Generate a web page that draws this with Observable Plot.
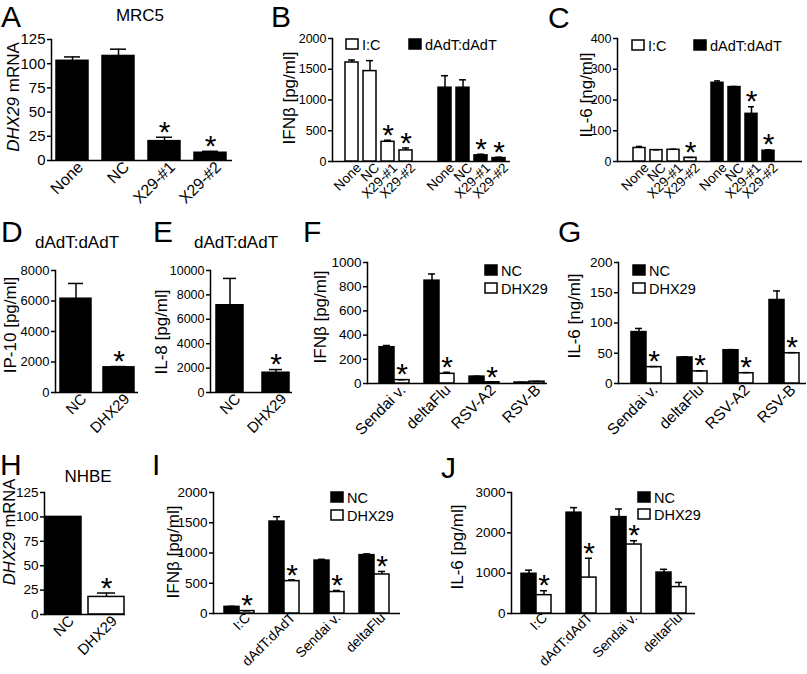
<!DOCTYPE html>
<html><head><meta charset="utf-8">
<script src="https://cdn.jsdelivr.net/npm/d3@7"></script>
<script src="https://cdn.jsdelivr.net/npm/@observablehq/plot@0.6"></script>
<style>
html,body{margin:0;padding:0;background:#fff;}
#fig{position:relative;width:807px;height:674px;overflow:hidden;background:#fff;font-family:"Liberation Sans",Arial,Helvetica,sans-serif;}
</style></head><body><div id="fig"></div>
<script>
// ---------------- DATA ----------------
// A: MRC5 DHX29 mRNA
const siA = ["None", "NC", "X29-#1", "X29-#2"];
const mrnaA = [103, 108, 20, 8];
const mrnaAErr = [107, 115, 24, 9.5];
const starA = [0, 0, 1, 1];
const ticksA = [0, 25, 50, 75, 100, 125];

// B / C: grouped by stimulus
const stimBC = ["I:C", "dAdT:dAdT"];
const siBC = ["None", "NC", "X29-#1", "X29-#2"];
const ifnB_IC = [1610, 1470, 320, 180];
const ifnB_ICErr = [1650, 1640, 345, 220];
const ifnB_dAdT = [1200, 1200, 100, 55];
const ifnB_dAdTErr = [1395, 1328, 118, 70];
const starB_IC = [0, 0, 1, 1];
const starB_dAdT = [0, 0, 1, 1];
const ticksB = [0, 500, 1000, 1500, 2000];

const il6C_IC = [44, 37, 38, 12];
const il6C_ICErr = [49, 38, 40, 13];
const il6C_dAdT = [256, 242, 155, 35];
const il6C_dAdTErr = [262, 244, 178, 38];
const starC_IC = [0, 0, 0, 1];
const starC_dAdT = [0, 0, 1, 1];
const ticksC = [0, 100, 200, 300, 400];

// D / E
const cellsDE = ["NC", "DHX29"];
const ip10D = [6150, 1650];
const ip10DErr = [7150, 1700];
const starD = [0, 1];
const ticksD = [0, 2000, 4000, 6000, 8000];
const il8E = [7150, 1620];
const il8EErr = [9350, 1880];
const starE = [0, 1];
const ticksE = [0, 2000, 4000, 6000, 8000, 10000];

// F / G: virus infections
const conds = ["NC", "DHX29"];
const virusFG = ["Sendai v.", "deltaFlu", "RSV-A2", "RSV-B"];
const ifnF_NC = [300, 850, 57, 8];
const ifnF_NCErr = [314, 905, 60, 9];
const ifnF_DHX = [28, 80, 10, 15];
const ifnF_DHXErr = [31, 92, 11, 17];
const starF = [1, 1, 1, 0];
const ticksF = [0, 200, 400, 600, 800, 1000];

const il6G_NC = [85, 43, 55, 138];
const il6G_NCErr = [91, 44, 56, 153];
const il6G_DHX = [27, 20, 17, 50];
const il6G_DHXErr = [28, 21, 18, 51];
const starG = [1, 1, 1, 1];
const ticksG = [0, 50, 100, 150, 200];

// H: NHBE
const cellsH = ["NC", "DHX29"];
const mrnaH = [100, 18];
const mrnaHErr = [100, 22];
const starH = [0, 1];
const ticksH = [0, 25, 50, 75, 100, 125];

// I / J
const stimIJ = ["I:C", "dAdT:dAdT", "Sendai v.", "deltaFlu"];
const ifnI_NC = [110, 1520, 875, 965];
const ifnI_NCErr = [118, 1600, 895, 985];
const ifnI_DHX = [40, 535, 355, 645];
const ifnI_DHXErr = [44, 555, 380, 695];
const starI = [1, 1, 1, 1];
const ticksI = [0, 500, 1000, 1500, 2000];

const il6J_NC = [985, 2500, 2390, 1015];
const il6J_NCErr = [1075, 2625, 2590, 1095];
const il6J_DHX = [455, 890, 1710, 655];
const il6J_DHXErr = [565, 1370, 1805, 770];
const starJ = [1, 1, 1, 0];
const ticksJ = [0, 1000, 2000, 3000];

// ---------------- DRAWING ----------------
const FONT = '"Liberation Sans", Arial, Helvetica, sans-serif';
const SW = 1.5;
const STAR = 30, STAR_DY = -5;
const ML = 45, MR = 14, MT = 14, MB = 90;
const fig = document.getElementById("fig");

function base(f) {
  return {
    width: f.x1 - f.x0 + ML + MR,
    height: f.y1 - f.y0 + MT + MB,
    marginLeft: ML, marginRight: MR, marginTop: MT, marginBottom: MB,
    style: {fontFamily: FONT, background: "transparent", overflow: "visible", color: "#000"}
  };
}
function place(svg, f) {
  svg.style.position = "absolute";
  svg.style.left = (f.x0 - ML) + "px";
  svg.style.top = (f.y0 - MT) + "px";
  svg.style.maxWidth = "none";
  fig.appendChild(svg);
}
function rowsOf(cats, vals, errs, stars, g) {
  return cats.map((c, i) => ({g, c, v: vals[i], e: errs[i], s: stars[i]}));
}
function yAxisMarks(f, yTicks) {
  return [
    Plot.axisY({ticks: yTicks, tickFormat: d => String(d), tickSize: 4, tickPadding: 2,
      strokeWidth: SW, fontSize: f.tfs, label: null}),
    Plot.ruleY([0], {stroke: "#000", strokeWidth: SW}),
    Plot.frame({anchor: "left", stroke: "#000", strokeWidth: SW})
  ];
}

function simplePanel(f, rows, cats, yTicks, xScale, fill, color) {
  const svg = Plot.plot({
    ...base(f),
    x: {domain: cats, ...xScale, axis: null, label: null},
    y: {domain: [0, yTicks[yTicks.length - 1]], axis: null, label: null},
    color,
    marks: [
      Plot.barY(rows, {x: "c", y: "v", fill, stroke: "#000", strokeWidth: SW}),
      Plot.ruleX(rows, {x: "c", y1: "v", y2: "e", stroke: "#000", strokeWidth: SW}),
      Plot.tickY(rows, {x: "c", y: "e", stroke: "#000", strokeWidth: SW, insetLeft: f.cap, insetRight: f.cap}),
      Plot.text(rows.filter(d => d.s), {x: "c", y: "e", text: () => "*", fontSize: STAR, dy: STAR_DY}),
      Plot.axisX({tickSize: 0, tickPadding: 4, tickRotate: -45, fontSize: f.xfs, label: null, dx: 8}),
      ...yAxisMarks(f, yTicks)
    ]
  });
  place(svg, f);
}

function facetPanel(f, rows, o) {
  const yDomain = [0, o.yTicks[o.yTicks.length - 1]];
  // axes layer (no facets): y axis, left spine, baseline
  const axes = Plot.plot({
    ...base(f),
    y: {domain: yDomain, axis: null, label: null},
    marks: yAxisMarks(f, o.yTicks)
  });
  place(axes, f);
  // bars layer (faceted)
  const svg = Plot.plot({
    ...base(f),
    fx: {domain: o.fx, ...o.fxScale, axis: null, label: null},
    x: {domain: o.x, ...o.xScale, axis: null, label: null},
    y: {domain: yDomain, axis: null, label: null},
    color: o.color,
    marks: [
      Plot.barY(rows, {fx: "g", x: "c", y: "v", fill: o.fillBy, stroke: "#000", strokeWidth: SW}),
      Plot.ruleX(rows, {fx: "g", x: "c", y1: "v", y2: "e", stroke: "#000", strokeWidth: SW}),
      Plot.tickY(rows, {fx: "g", x: "c", y: "e", stroke: "#000", strokeWidth: SW, insetLeft: f.cap, insetRight: f.cap}),
      Plot.text(rows.filter(d => d.s), {fx: "g", x: "c", y: "e", text: () => "*", fontSize: STAR, dy: STAR_DY}),
      o.labelOn === "x"
        ? Plot.axisX({tickSize: 0, tickPadding: 4, tickRotate: -45, fontSize: f.xfs, label: null, dx: 7})
        : Plot.axisFx({anchor: "bottom", tickSize: 0, tickPadding: f.xpad ?? 4, tickRotate: -45, fontSize: f.xfs, label: null, dx: 9})
    ]
  });
  place(svg, f);
}

const bw = {domain: ["NC", "DHX29"], range: ["#000", "#fff"]};
const stimColor = {domain: stimBC, range: ["#fff", "#000"]};

// A
simplePanel({x0: 51, x1: 232, y0: 39, y1: 160, cap: 8, tfs: 15, xfs: 16},
  rowsOf(siA, mrnaA, mrnaAErr, starA), siA, ticksA,
  {paddingInner: 0.30, paddingOuter: 0.1, align: 0.43}, "#000");
// B
facetPanel({x0: 332, x1: 510, y0: 38, y1: 161, cap: 3, tfs: 12.5, xfs: 13.5},
  [...rowsOf(siBC, ifnB_IC, ifnB_ICErr, starB_IC, stimBC[0]), ...rowsOf(siBC, ifnB_dAdT, ifnB_dAdTErr, starB_dAdT, stimBC[1])],
  {fx: stimBC, x: siBC, yTicks: ticksB, labelOn: "x", fillBy: "g", color: stimColor,
   fxScale: {paddingInner: 0.253, paddingOuter: 0.083, align: 0.78}, xScale: {paddingInner: 0.28, paddingOuter: 0.05}});
// C
facetPanel({x0: 617, x1: 802, y0: 38, y1: 161, cap: 3, tfs: 12.5, xfs: 13.5},
  [...rowsOf(siBC, il6C_IC, il6C_ICErr, starC_IC, stimBC[0]), ...rowsOf(siBC, il6C_dAdT, il6C_dAdTErr, starC_dAdT, stimBC[1])],
  {fx: stimBC, x: siBC, yTicks: ticksC, labelOn: "x", fillBy: "g", color: stimColor,
   fxScale: {paddingInner: 0.137, paddingOuter: 0.254, align: 0.355}, xScale: {paddingInner: 0.27, paddingOuter: 0.05}});
// D
simplePanel({x0: 55, x1: 138, y0: 270, y1: 392, cap: 8, tfs: 13, xfs: 15},
  rowsOf(cellsDE, ip10D, ip10DErr, starD), cellsDE, ticksD,
  {paddingInner: 0.29, paddingOuter: 0.11, align: 0.53}, "#000");
// E
simplePanel({x0: 210, x1: 292, y0: 270, y1: 392, cap: 7, tfs: 12.5, xfs: 15},
  rowsOf(cellsDE, il8E, il8EErr, starE), cellsDE, ticksE,
  {paddingInner: 0.415, paddingOuter: 0.08, align: 0.67}, "#000");
// F
facetPanel({x0: 367, x1: 547, y0: 262, y1: 383, cap: 4, tfs: 13.5, xfs: 15.5},
  virusFG.flatMap((g, i) => [
    {g, c: "NC", v: ifnF_NC[i], e: ifnF_NCErr[i], s: 0},
    {g, c: "DHX29", v: ifnF_DHX[i], e: ifnF_DHXErr[i], s: starF[i]}]),
  {fx: virusFG, x: conds, yTicks: ticksF, labelOn: "fx", fillBy: "c", color: bw,
   fxScale: {paddingInner: 0.30, paddingOuter: 0.12, align: 0.82}, xScale: {padding: 0}});
// G
facetPanel({x0: 618, x1: 806, y0: 262, y1: 383, cap: 4, tfs: 13.5, xfs: 15.5},
  virusFG.flatMap((g, i) => [
    {g, c: "NC", v: il6G_NC[i], e: il6G_NCErr[i], s: 0},
    {g, c: "DHX29", v: il6G_DHX[i], e: il6G_DHXErr[i], s: starG[i]}]),
  {fx: virusFG, x: conds, yTicks: ticksG, labelOn: "fx", fillBy: "c", color: bw,
   fxScale: {paddingInner: 0.326, paddingOuter: 0.2, align: 0.63}, xScale: {padding: 0}});
// H
simplePanel({x0: 44, x1: 125, y0: 492, y1: 614, cap: 9, tfs: 13.5, xfs: 15},
  rowsOf(cellsH, mrnaH, mrnaHErr, starH), cellsH, ticksH,
  {paddingInner: 0.16, paddingOuter: 0.02, align: 0.5}, "c", bw);
// I
facetPanel({x0: 213, x1: 400, y0: 492, y1: 613, cap: 4, tfs: 13.5, xfs: 13.8, xpad: 2},
  stimIJ.flatMap((g, i) => [
    {g, c: "NC", v: ifnI_NC[i], e: ifnI_NCErr[i], s: 0},
    {g, c: "DHX29", v: ifnI_DHX[i], e: ifnI_DHXErr[i], s: starI[i]}]),
  {fx: stimIJ, x: conds, yTicks: ticksI, labelOn: "fx", fillBy: "c", color: bw,
   fxScale: {paddingInner: 0.31, paddingOuter: 0.2, align: 0.49}, xScale: {padding: 0}});
// J
facetPanel({x0: 511, x1: 695, y0: 492, y1: 613, cap: 4, tfs: 13.5, xfs: 13.8, xpad: 2},
  stimIJ.flatMap((g, i) => [
    {g, c: "NC", v: il6J_NC[i], e: il6J_NCErr[i], s: 0},
    {g, c: "DHX29", v: il6J_DHX[i], e: il6J_DHXErr[i], s: starJ[i]}]),
  {fx: stimIJ, x: conds, yTicks: ticksJ, labelOn: "fx", fillBy: "c", color: bw,
   fxScale: {paddingInner: 0.31, paddingOuter: 0.17, align: 0.52}, xScale: {padding: 0}});

// ---------------- ANNOTATIONS (letters, titles, axis labels, legends) ----------------
const ov = d3.select(fig).append("svg")
  .attr("width", 807).attr("height", 674)
  .style("position", "absolute").style("left", "0px").style("top", "0px")
  .style("font-family", FONT).style("pointer-events", "none");

const letters = [
  ["A", 1, 27], ["B", 271, 27], ["C", 548, 28], ["D", 1, 242], ["E", 153, 242],
  ["F", 303, 242], ["G", 558, 242], ["H", 0, 475], ["I", 152, 475], ["J", 441, 478]
];
letters.forEach(([t, x, y]) => ov.append("text").attr("x", x).attr("y", y)
  .attr("font-size", 30).text(t));

const titles = [["MRC5", 140, 21], ["dAdT:dAdT", 77, 248], ["dAdT:dAdT", 236, 248], ["NHBE", 88, 482]];
titles.forEach(([t, x, y]) => ov.append("text").attr("x", x).attr("y", y)
  .attr("font-size", 17).attr("text-anchor", "middle").text(t));

const ylabels = [
  [["DHX29", true], [" mRNA", false], 13, 97, 17],
  [["IFNβ [pg/ml]", false], null, 289, 98, 17],
  [["IL-6 [ng/ml]", false], null, 586, 95, 17],
  [["IP-10 [pg/ml]", false], null, 10, 325, 17],
  [["IL-8 [pg/ml]", false], null, 161, 332, 17],
  [["IFNβ [pg/ml]", false], null, 320, 317, 17],
  [["IL-6 [ng/ml]", false], null, 574, 316, 17],
  [["DHX29", true], [" mRNA", false], 9, 532, 16.5],
  [["IFNβ [pg/ml]", false], null, 173, 552, 17],
  [["IL-6 [pg/ml]", false], null, 457, 547, 17]
];
ylabels.forEach(([p1, p2, x, y, fs]) => {
  const t = ov.append("text").attr("transform", `translate(${x},${y}) rotate(-90)`)
    .attr("text-anchor", "middle").attr("dy", "0.35em").attr("font-size", fs);
  t.append("tspan").attr("font-style", p1[1] ? "italic" : null).text(p1[0]);
  if (p2) t.append("tspan").attr("font-style", p2[1] ? "italic" : null).text(p2[0]);
});

// legends: [x, y, filled, label]
const legends = [
  [346, 39, false, "I:C"], [409, 39, true, "dAdT:dAdT"],
  [632, 40, false, "I:C"], [694, 40, true, "dAdT:dAdT"],
  [485, 265, true, "NC"], [485, 283, false, "DHX29"],
  [633, 265, true, "NC"], [633, 283, false, "DHX29"],
  [331, 492, true, "NC"], [331, 510, false, "DHX29"],
  [638, 492, true, "NC"], [638, 509, false, "DHX29"]
];
legends.forEach(([x, y, filled, label]) => {
  ov.append("rect").attr("x", x).attr("y", y).attr("width", 12).attr("height", 10)
    .attr("fill", filled ? "#000" : "#fff").attr("stroke", "#000").attr("stroke-width", SW);
  ov.append("text").attr("x", x + 16).attr("y", y + 10.5).attr("font-size", 14.5).text(label);
});
</script></body></html>
